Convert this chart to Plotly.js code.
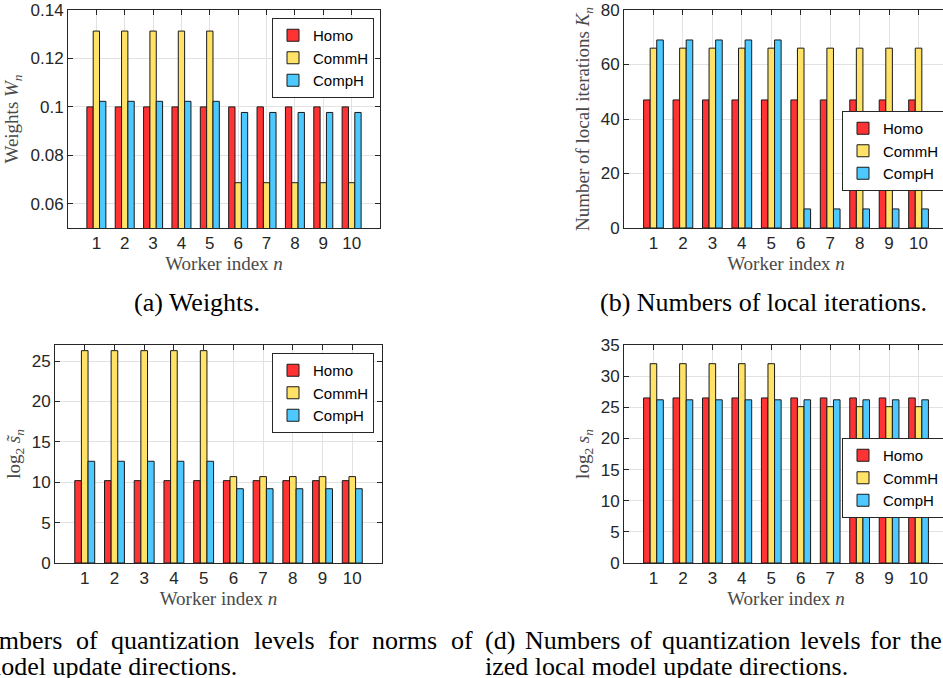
<!DOCTYPE html>
<html>
<head>
<meta charset="utf-8">
<script src="https://cdn.plot.ly/plotly-3.0.1.min.js"></script>
<style>
html,body{margin:0;padding:0;overflow:hidden;background:#fff;width:943px;height:678px}
#plot{width:960px;height:678px}
</style>
</head>
<body>
<div id="plot"></div>
<script>
// ---------- data ----------
const workers = [1, 2, 3, 4, 5, 6, 7, 8, 9, 10];
const seriesNames = ['Homo', 'CommH', 'CompH'];

const weightsHomo  = [0.1, 0.1, 0.1, 0.1, 0.1, 0.1, 0.1, 0.1, 0.1, 0.1];
const weightsCommH = [0.1313, 0.1313, 0.1313, 0.1313, 0.1313, 0.0687, 0.0687, 0.0687, 0.0687, 0.0687];
const weightsCompH = [0.1023, 0.1023, 0.1023, 0.1023, 0.1023, 0.0977, 0.0977, 0.0977, 0.0977, 0.0977];

const itersHomo  = [47, 47, 47, 47, 47, 47, 47, 47, 47, 47];
const itersCommH = [66, 66, 66, 66, 66, 66, 66, 66, 66, 66];
const itersCompH = [69, 69, 69, 69, 69, 7, 7, 7, 7, 7];

const normLevelsHomo  = [10.2, 10.2, 10.2, 10.2, 10.2, 10.2, 10.2, 10.2, 10.2, 10.2];
const normLevelsCommH = [26.3, 26.3, 26.3, 26.3, 26.3, 10.7, 10.7, 10.7, 10.7, 10.7];
const normLevelsCompH = [12.6, 12.6, 12.6, 12.6, 12.6, 9.2, 9.2, 9.2, 9.2, 9.2];

const dirLevelsHomo  = [26.5, 26.5, 26.5, 26.5, 26.5, 26.5, 26.5, 26.5, 26.5, 26.5];
const dirLevelsCommH = [32, 32, 32, 32, 32, 25.1, 25.1, 25.1, 25.1, 25.1];
const dirLevelsCompH = [26.2, 26.2, 26.2, 26.2, 26.2, 26.2, 26.2, 26.2, 26.2, 26.2];

const weightTickVals = [0.06, 0.08, 0.1, 0.12, 0.14];
const weightTickText = ['0.06', '0.08', '0.1', '0.12', '0.14'];

const captionA = '(a) Weights.';
const captionB = '(b) Numbers of local iterations.';
const captionC1 = '(c) Numbers of quantization levels for norms of';
const captionC2 = 'local model update directions.';
const captionD1 = '(d) Numbers of quantization levels for the normal-';
const captionD2 = 'ized local model update directions.';

// ---------- styling ----------
const W = 960, H = 678;
const colors = ['#FF3333', '#FFE266', '#4DC9FF'];
const px = v => v / W;
const py = v => 1 - v / H;

const panels = [
  {data: [weightsHomo, weightsCommH, weightsCompH], xd: [68, 380], yd: [10, 228], yr: [0.05, 0.14],
   ytitle: 'Weights <i>W<sub>n</sub></i>', yticks: {tickvals: weightTickVals, ticktext: weightTickText}, leg: [272, 18]},
  {data: [itersHomo, itersCommH, itersCompH], xd: [624, 948], yd: [10, 228], yr: [0, 80],
   ytitle: 'Number of local iterations <i>K<sub>n</sub></i>', yticks: {dtick: 20, tick0: 0}, leg: [842, 111]},
  {data: [normLevelsHomo, normLevelsCommH, normLevelsCompH], xd: [55, 382], yd: [345, 563], yr: [0, 27],
   ytitle: 'log<sub>2</sub> <i>s\u0303<sub>n</sub></i>', yticks: {dtick: 5, tick0: 0}, leg: [272, 353]},
  {data: [dirLevelsHomo, dirLevelsCommH, dirLevelsCompH], xd: [624, 948], yd: [345, 563], yr: [0, 35],
   ytitle: 'log<sub>2</sub> <i>s<sub>n</sub></i>', yticks: {dtick: 5, tick0: 0}, leg: [842, 438]}
];

const tickFont = {family: 'Liberation Sans, Arial, sans-serif', size: 17, color: '#262626'};
const labelFont = {family: 'Liberation Serif, Times New Roman, serif', size: 19, color: '#4a4a4a'};

const traces = [];
const layout = {
  width: W, height: H,
  margin: {l: 0, r: 0, t: 0, b: 0},
  paper_bgcolor: '#fff', plot_bgcolor: '#fff',
  barmode: 'group', bargap: 0.33, bargroupgap: 0,
  showlegend: true,
  annotations: []
};

panels.forEach((p, i) => {
  const s = i === 0 ? '' : String(i + 1);
  const legName = i === 0 ? 'legend' : 'legend' + (i + 1);
  p.data.forEach((vals, k) => {
    traces.push({
      type: 'bar', x: workers, y: vals, name: seriesNames[k],
      xaxis: 'x' + s, yaxis: 'y' + s, legend: legName,
      marker: {color: colors[k], line: {color: '#1a1a1a', width: 1}},
      hoverinfo: 'skip'
    });
  });
  const common = {
    showline: true, mirror: 'ticks', linecolor: '#262626', linewidth: 1,
    ticks: 'inside', ticklen: 5, tickcolor: '#262626', tickwidth: 1,
    showgrid: true, gridcolor: '#e2e2e2', gridwidth: 1, zeroline: false,
    tickfont: tickFont, fixedrange: true
  };
  layout['xaxis' + s] = Object.assign({}, common, {
    domain: [px(p.xd[0]), px(p.xd[1])], anchor: 'y' + s,
    range: [0, 11], tickmode: 'array', tickvals: workers, layer: 'below traces',
    title: {text: 'Worker index <i>n</i>', font: labelFont, standoff: 2}
  });
  layout['yaxis' + s] = Object.assign({}, common, {
    domain: [py(p.yd[1]), py(p.yd[0])], anchor: 'x' + s,
    range: p.yr,
    title: {text: p.ytitle, font: labelFont, standoff: 6}
  }, p.yticks.tickvals ? {tickmode: 'array', tickvals: p.yticks.tickvals, ticktext: p.yticks.ticktext}
                       : {tickmode: 'linear', dtick: p.yticks.dtick, tick0: p.yticks.tick0});
  layout[legName] = {
    x: px(p.leg[0]), y: py(p.leg[1]), xanchor: 'left', yanchor: 'top',
    xref: 'paper', yref: 'paper',
    bgcolor: '#ffffff', bordercolor: '#262626', borderwidth: 1,
    font: {family: 'Liberation Sans, Arial, sans-serif', size: 15, color: '#000'},
    tracegroupgap: 0, itemwidth: 30
  };
});

// ---------- captions ----------
const capFamily = 'Liberation Serif';
const capSize = 26;
const capFont = {family: capFamily + ', Times New Roman, serif', size: capSize, color: '#000'};
const ctx = document.createElement('canvas').getContext('2d');
ctx.font = capSize + 'px "' + capFamily + '"';

function plainCaption(text, x, y, anchor) {
  layout.annotations.push({text: text, xref: 'paper', yref: 'paper', x: px(x), y: py(y),
    xanchor: anchor, yanchor: 'middle', showarrow: false, font: capFont, borderpad: 0});
}
function justifiedCaption(text, x0, x1, y) {
  const words = text.split(' ');
  const widths = words.map(w => ctx.measureText(w).width);
  const total = widths.reduce((a, b) => a + b, 0);
  const gap = (x1 - x0 - total) / (words.length - 1);
  let x = x0;
  words.forEach((w, i) => {
    plainCaption(w, x, y, 'left');
    x += widths[i] + gap;
  });
}

plainCaption(captionA, 197, 303, 'center');
plainCaption(captionB, 763, 303, 'center');
justifiedCaption(captionC1, -77, 472, 640);
plainCaption(captionC2, -77, 666, 'left');
justifiedCaption(captionD1, 484, 1033, 640);
plainCaption(captionD2, 484, 666, 'left');

Plotly.newPlot('plot', traces, layout, {displayModeBar: false, staticPlot: true});
</script>
</body>
</html>
